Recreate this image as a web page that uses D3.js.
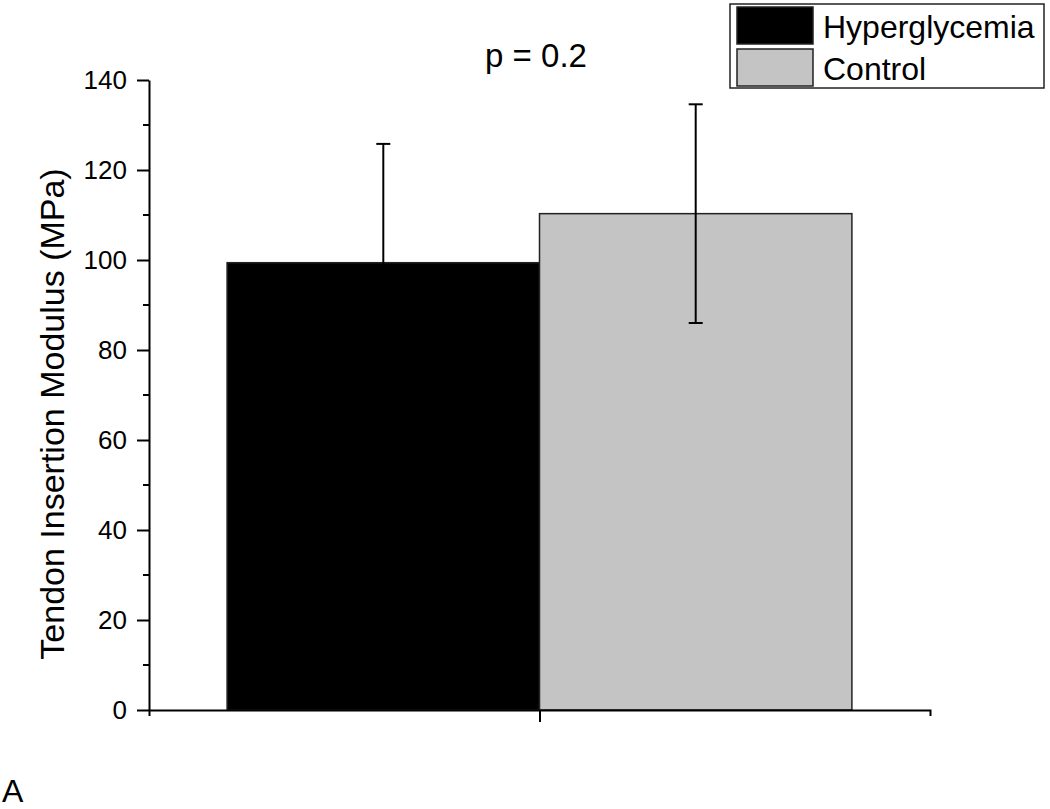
<!DOCTYPE html>
<html>
<head>
<meta charset="utf-8">
<script src="https://cdn.jsdelivr.net/npm/d3@7"></script>
<style>
  body { margin: 0; background: #fff; }
  svg { font-family: "Liberation Sans", Arial, sans-serif; }
</style>
</head>
<body>
<svg id="chart" width="1050" height="809"></svg>
<script>
// group means and standard deviations
var groups = ["Hyperglycemia", "Control"],
	means = [99.4, 110.3],
	sds = [26.4, 24.3],
	fills = ["#000000", "#c4c4c4"],
	majorTicks = [0, 20, 40, 60, 80, 100, 120, 140],
	minorTicks = [10, 30, 50, 70, 90, 110, 130];

var svg = d3.select("#chart");

var x = d3.scaleLinear().domain([0.5, 1.5]).range([149, 930]),
	y = d3.scaleLinear().domain([0, 140]).range([710, 80]),
	barW = 0.4;

var data = groups.map(function(g, i) {
	return {name: g, mean: means[i], sd: sds[i], fill: fills[i], x0: 1 - barW + i * barW};
});

// bars
svg.selectAll(".bar")
	.data(data)
	.enter().append("rect")
		.attr("class", "bar")
		.attr("x", function(d) { return x(d.x0); })
		.attr("width", function(d) { return x(d.x0 + barW) - x(d.x0); })
		.attr("y", function(d) { return y(d.mean); })
		.attr("height", function(d) { return y(0) - y(d.mean); })
		.style("fill", function(d) { return d.fill; })
		.style("stroke", "#222")
		.style("stroke-width", 1.5);

// error bars
var eb = svg.selectAll(".err")
	.data(data)
	.enter().append("g")
		.attr("class", "err")
		.attr("transform", function(d) { return "translate(" + x(d.x0 + barW / 2) + ",0)"; });
eb.append("line")
	.attr("y1", function(d) { return y(d.mean - d.sd); })
	.attr("y2", function(d) { return y(d.mean + d.sd); })
	.style("stroke", "#000").style("stroke-width", 2);
eb.selectAll(".cap")
	.data(function(d) { return [d.mean - d.sd, d.mean + d.sd]; })
	.enter().append("line")
		.attr("x1", -7).attr("x2", 7)
		.attr("y1", function(v) { return y(v); })
		.attr("y2", function(v) { return y(v); })
		.style("stroke", "#000").style("stroke-width", 2);

// y axis
var yAxis = svg.append("g")
	.attr("transform", "translate(" + x(0.5) + ",0)")
	.call(d3.axisLeft(y).tickValues(majorTicks).tickSize(12).tickSizeOuter(0).tickPadding(10));
yAxis.selectAll(".minor")
	.data(minorTicks)
	.enter().append("line")
		.attr("class", "minor")
		.attr("x1", -6).attr("x2", 0)
		.attr("y1", function(v) { return y(v); })
		.attr("y2", function(v) { return y(v); });
yAxis.selectAll("text").style("font-size", "26px").style("font-family", "Liberation Sans, Arial, sans-serif").attr("fill", "#000");
yAxis.selectAll("line").attr("stroke", "#000").style("stroke-width", 2);
yAxis.select(".domain").attr("stroke", "#000").style("stroke-width", 2);

// x axis
var xAxis = svg.append("g")
	.attr("transform", "translate(0," + y(0) + ")")
	.call(d3.axisBottom(x).tickValues([1]).tickSize(12).tickSizeOuter(6).tickFormat(""));
xAxis.selectAll("line").attr("stroke", "#000").style("stroke-width", 2);
xAxis.select(".domain").attr("stroke", "#000").style("stroke-width", 2);

// y axis title
svg.append("text")
	.attr("transform", "translate(64,414) rotate(-90)")
	.style("text-anchor", "middle")
	.style("font-size", "34px")
	.text("Tendon Insertion Modulus (MPa)");

// p value
svg.append("text")
	.attr("x", 536).attr("y", 67)
	.style("text-anchor", "middle")
	.style("font-size", "33px")
	.text("p = 0.2");

// panel letter
svg.append("text")
	.attr("x", 2).attr("y", 802)
	.style("font-size", "32px")
	.text("A");

// legend
var legend = svg.append("g").attr("transform", "translate(730,4)");
legend.append("rect")
	.attr("width", 314).attr("height", 84)
	.style("fill", "#fff").style("stroke", "#222").style("stroke-width", 1.5);
var items = legend.selectAll(".item")
	.data(data)
	.enter().append("g")
		.attr("class", "item")
		.attr("transform", function(d, i) { return "translate(7," + (3 + i * 42) + ")"; });
items.append("rect")
	.attr("width", 76).attr("height", 37)
	.style("fill", function(d) { return d.fill; })
	.style("stroke", "#222").style("stroke-width", 1.5);
items.append("text")
	.attr("x", 86).attr("y", 31)
	.style("font-size", "32px")
	.text(function(d) { return d.name; });
</script>
</body>
</html>
